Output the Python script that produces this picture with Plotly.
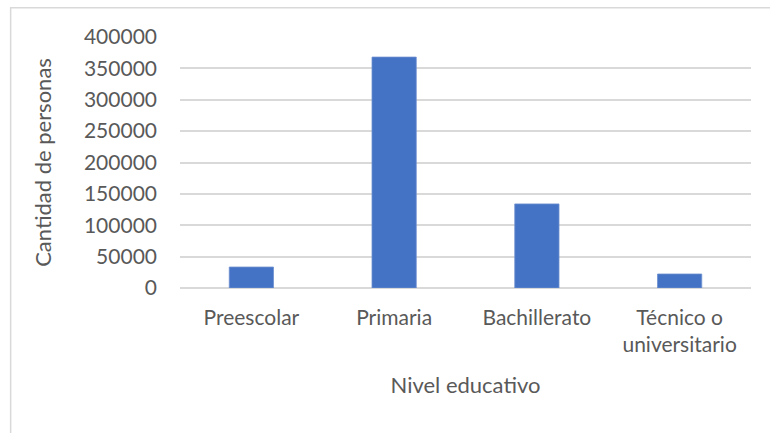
import plotly.graph_objects as go

categories = ["Preescolar", "Primaria", "Bachillerato", "Técnico o<br>universitario"]
values = [33400, 368000, 134000, 22300]
y_ticks = [0, 50000, 100000, 150000, 200000, 250000, 300000, 350000, 400000]

W, H = 770, 433
L, R, T, B = 180, 18.5, 36.7, 144.7
pw, ph = W - L - R, H - T - B

def px_x(x):
    return (x - L) / pw

def px_y(y):
    return (H - B - y) / ph

TEXT = "#595959"
GRID = "#d9d9d9"
FONT = "Lato"

fig = go.Figure(go.Bar(
    x=categories, y=values,
    marker=dict(color="#4472C4", line=dict(color="#6f91d1", width=0.8)),
))

fig.update_layout(
    width=W, height=H,
    margin=dict(l=L, r=R, t=T, b=B, autoexpand=False),
    paper_bgcolor="white", plot_bgcolor="white",
    bargap=0.69,
    showlegend=False,
    font=dict(family=FONT, size=21, color=TEXT),
    shapes=[dict(type="rect", xref="paper", yref="paper",
                 x0=px_x(10.5), x1=px_x(800), y0=px_y(460), y1=px_y(7.5),
                 line=dict(color=GRID, width=1.5), fillcolor="rgba(0,0,0,0)", layer="below")],
)
fig.update_xaxes(
    showgrid=False, showline=False, zeroline=False, ticks="",
    tickfont=dict(family=FONT, size=21, color=TEXT),
    ticklabelstandoff=15,
    title=dict(text="Nivel educativo", font=dict(family=FONT, size=22, color=TEXT), standoff=22),
)
fig.update_yaxes(
    range=[0, 400000], tickvals=y_ticks, ticktext=[str(v) for v in y_ticks],
    showgrid=True, gridcolor=GRID, gridwidth=1.5,
    zeroline=True, zerolinecolor=GRID, zerolinewidth=1.5,
    showline=False, ticks="",
    tickfont=dict(family=FONT, size=21, color=TEXT),
    ticklabelstandoff=22,
    title=dict(text="Cantidad de personas", font=dict(family=FONT, size=22, color=TEXT), standoff=26),
)

fig.write_html("out.html")
